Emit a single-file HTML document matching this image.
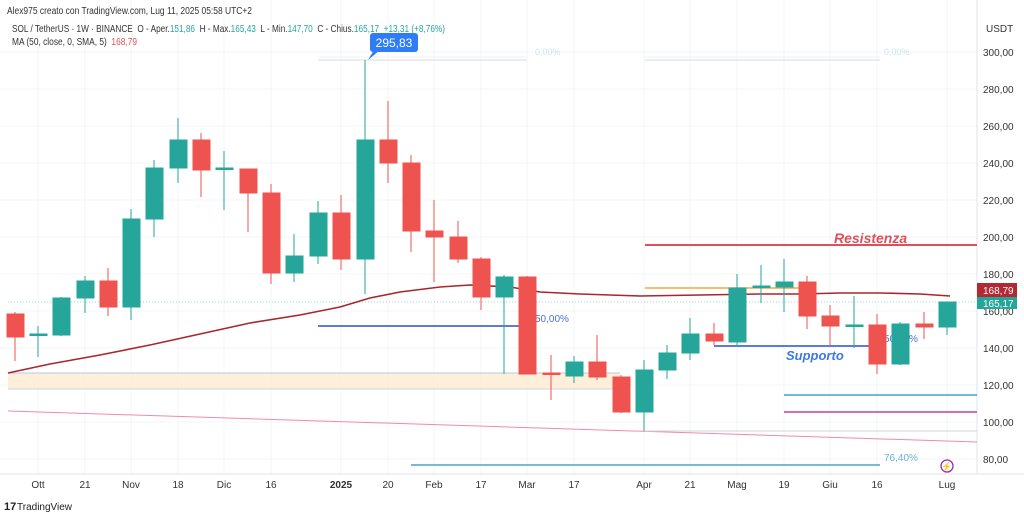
<!DOCTYPE html>
<html><head><meta charset="utf-8"><style>
body{margin:0;background:#fff;width:1024px;height:517px;overflow:hidden;font-family:"Liberation Sans",sans-serif}
svg{display:block}
</style></head><body>
<svg width="1024" height="517" viewBox="0 0 1024 517" xmlns="http://www.w3.org/2000/svg" font-family="Liberation Sans, sans-serif">
<rect width="1024" height="517" fill="#fff"/>
<g stroke="#f3f4f6" stroke-width="1">
<line x1="0" y1="52" x2="977" y2="52"/><line x1="0" y1="89" x2="977" y2="89"/><line x1="0" y1="126" x2="977" y2="126"/><line x1="0" y1="163" x2="977" y2="163"/><line x1="0" y1="200" x2="977" y2="200"/><line x1="0" y1="237" x2="977" y2="237"/><line x1="0" y1="274" x2="977" y2="274"/><line x1="0" y1="311" x2="977" y2="311"/><line x1="0" y1="348" x2="977" y2="348"/><line x1="0" y1="385" x2="977" y2="385"/><line x1="0" y1="422" x2="977" y2="422"/><line x1="0" y1="459" x2="977" y2="459"/>
<line x1="38" y1="0" x2="38" y2="474"/><line x1="85" y1="0" x2="85" y2="474"/><line x1="131" y1="0" x2="131" y2="474"/><line x1="178" y1="0" x2="178" y2="474"/><line x1="224" y1="0" x2="224" y2="474"/><line x1="271" y1="0" x2="271" y2="474"/><line x1="341" y1="0" x2="341" y2="474"/><line x1="388" y1="0" x2="388" y2="474"/><line x1="434" y1="0" x2="434" y2="474"/><line x1="481" y1="0" x2="481" y2="474"/><line x1="527" y1="0" x2="527" y2="474"/><line x1="574" y1="0" x2="574" y2="474"/><line x1="644" y1="0" x2="644" y2="474"/><line x1="690" y1="0" x2="690" y2="474"/><line x1="737" y1="0" x2="737" y2="474"/><line x1="784" y1="0" x2="784" y2="474"/><line x1="830" y1="0" x2="830" y2="474"/><line x1="877" y1="0" x2="877" y2="474"/><line x1="947" y1="0" x2="947" y2="474"/>
</g>
<line x1="977" y1="0" x2="977" y2="474" stroke="#e0e3eb"/>
<line x1="0" y1="474" x2="1024" y2="474" stroke="#e0e3eb"/>
<rect x="8" y="373" width="612" height="16" fill="#fdebd0" opacity="0.8"/>
<line x1="8" y1="373" x2="620" y2="373" stroke="#b8c8e0"/>
<line x1="8" y1="389" x2="620" y2="389" stroke="#c8d4ea"/>
<line x1="8" y1="411" x2="977" y2="442" stroke="#f18aa8" stroke-width="1"/>
<line x1="8" y1="302" x2="977" y2="302" stroke="#9fd8d2" stroke-dasharray="1,2"/>
<line x1="318" y1="60" x2="527" y2="60" stroke="#d7dde3"/>
<line x1="318" y1="57" x2="527" y2="57" stroke="#eef2f5"/>
<line x1="645" y1="60" x2="880" y2="60" stroke="#d7dde3"/>
<line x1="645" y1="57" x2="880" y2="57" stroke="#eef2f5"/>
<text x="535" y="55" font-size="9" fill="#c8e6ec">0,00%</text>
<text x="884" y="55" font-size="9" fill="#c8e6ec">0,00%</text>
<line x1="318" y1="326" x2="520" y2="326" stroke="#2d4fc4" stroke-width="1.5"/>
<text x="535" y="322" font-size="10" fill="#4a6fd8">50,00%</text>
<line x1="645" y1="245" x2="977" y2="245" stroke="#e0505a" stroke-width="2"/>
<text x="834" y="243" font-size="14" font-style="italic" font-weight="bold" fill="#e0505a">Resistenza</text>
<line x1="645" y1="288" x2="800" y2="288" stroke="#f4a640" stroke-width="1.5"/>
<line x1="714" y1="346" x2="870" y2="346" stroke="#2d4fc4" stroke-width="1.5"/>
<text x="786" y="360" font-size="13" font-style="italic" font-weight="bold" fill="#3c78e6">Supporto</text>
<text x="884" y="342" font-size="10" fill="#4a6fd8">50,00%</text>
<line x1="784" y1="395" x2="977" y2="395" stroke="#3fa0d8" stroke-width="1.5"/>
<line x1="784" y1="412" x2="977" y2="412" stroke="#c040a0" stroke-width="1.5"/>
<line x1="645" y1="431" x2="977" y2="431" stroke="#d0d4d8"/>
<line x1="411" y1="465" x2="880" y2="465" stroke="#4aa3c8" stroke-width="1.5"/>
<text x="884" y="461" font-size="10" fill="#6ab0d8">76,40%</text>
<polyline fill="none" stroke="#a8262c" stroke-width="1.6" points="8,373 50,364 100,355 150,345 200,334 250,323 300,315 340,307 370,298 400,292 440,287 470,285 510,287 540,292 580,294 640,296 700,295 760,294 800,294 840,293 880,293 920,294 950,296"/>
<g stroke-width="1">
<g fill="#26a69a" stroke="#26a69a">
<line x1="38" y1="326" x2="38" y2="357"/><rect x="30" y="334" width="17" height="1.5"/>
<line x1="61" y1="297" x2="61" y2="336"/><rect x="53" y="298" width="17" height="37"/>
<line x1="85" y1="276" x2="85" y2="313"/><rect x="77" y="281" width="17" height="17"/>
<line x1="131" y1="209" x2="131" y2="320"/><rect x="123" y="219" width="17" height="88"/>
<line x1="154" y1="160" x2="154" y2="237"/><rect x="146" y="168" width="17" height="51"/>
<line x1="178" y1="118" x2="178" y2="183"/><rect x="170" y="140" width="17" height="28"/>
<line x1="224" y1="151" x2="224" y2="210"/><rect x="216" y="168" width="17" height="1.5"/>
<line x1="294" y1="234" x2="294" y2="282"/><rect x="286" y="256" width="17" height="17"/>
<line x1="318" y1="201" x2="318" y2="264"/><rect x="310" y="213" width="17" height="43"/>
<line x1="365" y1="60" x2="365" y2="294"/><rect x="357" y="140" width="17" height="119"/>
<line x1="504" y1="275" x2="504" y2="374"/><rect x="496" y="277" width="17" height="20"/>
<line x1="574" y1="356" x2="574" y2="383"/><rect x="566" y="362" width="17" height="14"/>
<line x1="644" y1="360" x2="644" y2="431"/><rect x="636" y="370" width="17" height="42"/>
<line x1="667" y1="345" x2="667" y2="379"/><rect x="659" y="353" width="17" height="17"/>
<line x1="690" y1="318" x2="690" y2="360"/><rect x="682" y="334" width="17" height="19"/>
<line x1="737" y1="274" x2="737" y2="347"/><rect x="729" y="288" width="17" height="54"/>
<line x1="761" y1="265" x2="761" y2="303"/><rect x="753" y="286" width="17" height="1.5"/>
<line x1="784" y1="259" x2="784" y2="312"/><rect x="776" y="282" width="17" height="5"/>
<line x1="854" y1="296" x2="854" y2="348"/><rect x="846" y="325" width="17" height="1.5"/>
<line x1="900" y1="322" x2="900" y2="365"/><rect x="892" y="324" width="17" height="40"/>
<line x1="947" y1="302" x2="947" y2="335"/><rect x="939" y="302" width="17" height="25"/>
</g>
<g fill="#ef5350" stroke="#ef5350">
<line x1="15" y1="312" x2="15" y2="361"/><rect x="7" y="314" width="17" height="23"/>
<line x1="108" y1="268" x2="108" y2="316"/><rect x="100" y="281" width="17" height="26"/>
<line x1="201" y1="133" x2="201" y2="197"/><rect x="193" y="140" width="17" height="30"/>
<line x1="248" y1="169" x2="248" y2="232"/><rect x="240" y="169" width="17" height="24"/>
<line x1="271" y1="184" x2="271" y2="284"/><rect x="263" y="193" width="17" height="80"/>
<line x1="341" y1="195" x2="341" y2="270"/><rect x="333" y="213" width="17" height="46"/>
<line x1="388" y1="101" x2="388" y2="183"/><rect x="380" y="140" width="17" height="23"/>
<line x1="411" y1="155" x2="411" y2="252"/><rect x="403" y="163" width="17" height="68"/>
<line x1="434" y1="200" x2="434" y2="282"/><rect x="426" y="231" width="17" height="6"/>
<line x1="458" y1="221" x2="458" y2="263"/><rect x="450" y="237" width="17" height="22"/>
<line x1="481" y1="257" x2="481" y2="310"/><rect x="473" y="259" width="17" height="38"/>
<line x1="527" y1="276" x2="527" y2="374"/><rect x="519" y="277" width="17" height="97"/>
<line x1="551" y1="355" x2="551" y2="400"/><rect x="543" y="373" width="17" height="1.5"/>
<line x1="597" y1="335" x2="597" y2="380"/><rect x="589" y="362" width="17" height="15"/>
<line x1="621" y1="375" x2="621" y2="413"/><rect x="613" y="377" width="17" height="35"/>
<line x1="714" y1="323" x2="714" y2="345"/><rect x="706" y="334" width="17" height="7"/>
<line x1="807" y1="276" x2="807" y2="329"/><rect x="799" y="282" width="17" height="34"/>
<line x1="830" y1="305" x2="830" y2="345"/><rect x="822" y="316" width="17" height="10"/>
<line x1="877" y1="314" x2="877" y2="374"/><rect x="869" y="325" width="17" height="39"/>
<line x1="924" y1="312" x2="924" y2="339"/><rect x="916" y="324" width="17" height="3"/>
</g>
</g>
<rect x="370" y="33" width="48" height="19" rx="3" fill="#2e7cf6"/>
<path d="M368,60 L374,50 L380,50 Z" fill="#2e7cf6"/>
<text x="394" y="47" font-size="12" fill="#fff" text-anchor="middle">295,83</text>
<text x="7" y="14" font-size="10" fill="#333" textLength="245" lengthAdjust="spacingAndGlyphs">Alex975 creato con TradingView.com, Lug 11, 2025 05:58 UTC+2</text>
<text x="12" y="32" font-size="10" fill="#333" xml:space="preserve" textLength="433" lengthAdjust="spacingAndGlyphs">SOL / TetherUS · 1W · BINANCE  O - Aper.<tspan fill="#26a69a">151,86</tspan>  H - Max.<tspan fill="#26a69a">165,43</tspan>  L - Min.<tspan fill="#26a69a">147,70</tspan>  C - Chius.<tspan fill="#26a69a">165,17  +13,31 (+8,76%)</tspan></text>
<text x="12" y="45" font-size="10" fill="#333" xml:space="preserve" textLength="125" lengthAdjust="spacingAndGlyphs">MA (50, close, 0, SMA, 5)  <tspan fill="#e0505a">168,79</tspan></text>
<g font-size="10" fill="#333">
<text x="986" y="32">USDT</text>
<text x="983" y="56">300,00</text><text x="983" y="93">280,00</text><text x="983" y="130">260,00</text><text x="983" y="167">240,00</text><text x="983" y="204">220,00</text><text x="983" y="241">200,00</text><text x="983" y="278">180,00</text><text x="983" y="315">160,00</text><text x="983" y="352">140,00</text><text x="983" y="389">120,00</text><text x="983" y="426">100,00</text><text x="983" y="463">80,00</text>
</g>
<rect x="977" y="283" width="40" height="14" fill="#b22833"/>
<text x="983" y="294" font-size="10" fill="#fff">168,79</text>
<rect x="977" y="297" width="40" height="12" fill="#26a69a"/>
<text x="983" y="307" font-size="10" fill="#fff">165,17</text>
<circle cx="947" cy="466" r="6" fill="none" stroke="#9c27b0" stroke-width="1.3"/>
<text x="947" y="469.5" font-size="9" fill="#9c27b0" text-anchor="middle">⚡</text>
<g font-size="10" fill="#333" text-anchor="middle">
<text x="38" y="488">Ott</text><text x="85" y="488">21</text><text x="131" y="488">Nov</text><text x="178" y="488">18</text><text x="224" y="488">Dic</text><text x="271" y="488">16</text><text x="341" y="488" font-weight="bold">2025</text><text x="388" y="488">20</text><text x="434" y="488">Feb</text><text x="481" y="488">17</text><text x="527" y="488">Mar</text><text x="574" y="488">17</text><text x="644" y="488">Apr</text><text x="690" y="488">21</text><text x="737" y="488">Mag</text><text x="784" y="488">19</text><text x="830" y="488">Giu</text><text x="877" y="488">16</text><text x="947" y="488">Lug</text>
</g>
<text x="4" y="510" font-size="11" font-weight="bold" fill="#222">17</text>
<text x="17" y="510" font-size="10" fill="#222">TradingView</text>
</svg>
</body></html>
